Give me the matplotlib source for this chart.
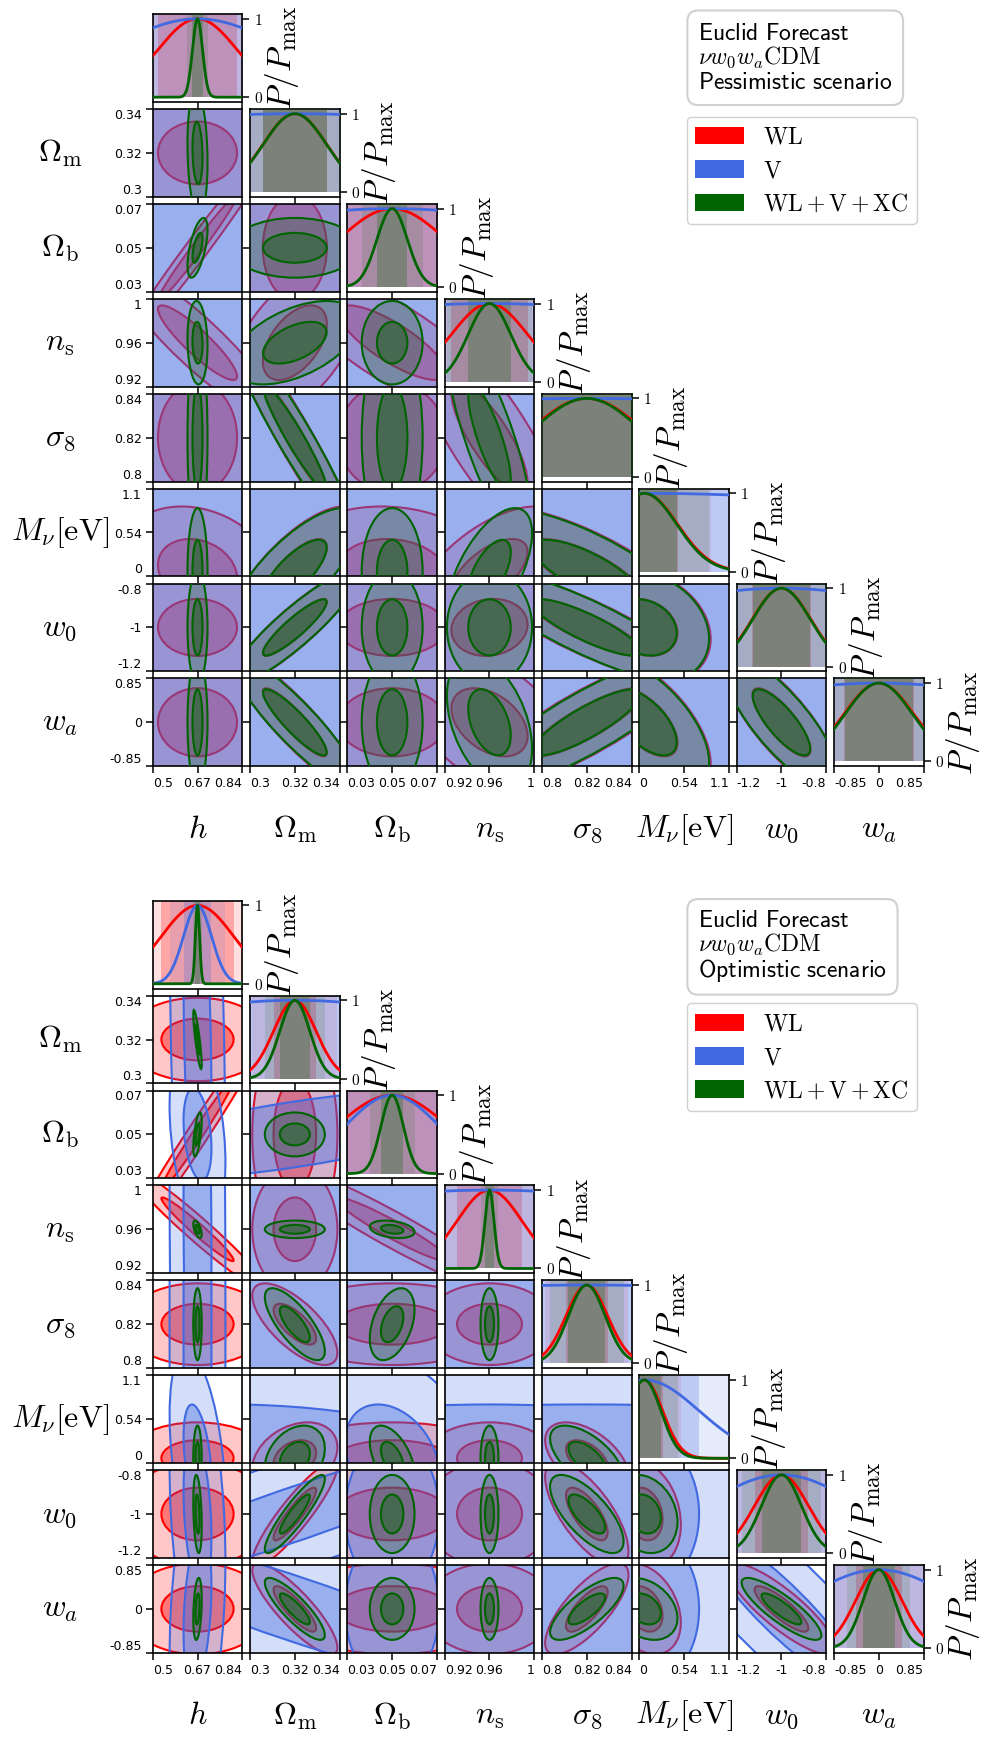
import numpy as np
import matplotlib
matplotlib.use("Agg")
import matplotlib.pyplot as plt
from matplotlib.patches import Ellipse, Patch

plt.rcParams["mathtext.fontset"] = "cm"
plt.rcParams["font.family"] = ["DejaVu Sans"]

# ---------------- data ----------------
PARAM_LABELS = [r"$h$", r"$\Omega_{\rm m}$", r"$\Omega_{\rm b}$", r"$n_{\rm s}$",
                r"$\sigma_8$", r"$M_\nu[\mathrm{eV}]$", r"$w_0$", r"$w_a$"]
FIDUCIAL = [0.67, 0.32, 0.05, 0.96, 0.82, 0.06, -1.0, 0.0]
AXIS_LIMITS = [(0.5, 0.84), (0.30, 0.34), (0.03, 0.07), (0.92, 1.0),
               (0.80, 0.84), (0.0, 1.08), (-1.2, -0.8), (-0.85, 0.85)]
TICK_VALUES = [[0.5, 0.67, 0.84], [0.30, 0.32, 0.34], [0.03, 0.05, 0.07],
               [0.92, 0.96, 1.0], [0.80, 0.82, 0.84], [0.0, 0.54, 1.08],
               [-1.2, -1.0, -0.8], [-0.85, 0.0, 0.85]]
TICK_LABELS = [["0.5", "0.67", "0.84"], ["0.3", "0.32", "0.34"], ["0.03", "0.05", "0.07"],
               ["0.92", "0.96", "1"], ["0.8", "0.82", "0.84"], ["0", "0.54", "1.1"],
               ["-1.2", "-1", "-0.8"], ["-0.85", "0", "0.85"]]

FORECAST_LABELS = [r"$\mathrm{WL}$", r"$\mathrm{V}$",
                   r"$\mathrm{WL} + \mathrm{V} + \mathrm{XC}$"]
FORECAST_COLORS = ["#ff0000", "#4169e1", "#006400"]
SCENARIOS = ["Pessimistic scenario", "Optimistic scenario"]

# marginalised 1-sigma errors  (h, Om, Ob, ns, s8, Mnu, w0, wa)
SIGMA_PESS_WL = [0.15, 0.0143, 0.024, 0.034, 0.025, 0.40, 0.13, 0.66]
SIGMA_PESS_V = [0.34, 0.15, 0.10, 0.25, 0.20, 5.0, 0.80, 4.0]
SIGMA_PESS_ALL = [0.019, 0.0142, 0.0068, 0.019, 0.024, 0.39, 0.128, 0.64]
SIGMA_OPT_WL = [0.137, 0.0095, 0.025, 0.029, 0.0093, 0.22, 0.12, 0.44]
SIGMA_OPT_V = [0.053, 0.095, 0.021, 0.25, 0.20, 0.66, 0.35, 1.5]
SIGMA_OPT_ALL = [0.008, 0.0067, 0.005, 0.004, 0.0082, 0.20, 0.089, 0.30]

# correlation coefficients, lower triangle (row i: correlation with params 0..i-1)
CORR_PESS_WL = [[],
                [0.0],
                [0.985, 0.0],
                [-0.9, 0.5, -0.8],
                [0.0, -0.95, 0.0, -0.8],
                [-0.2, 0.75, -0.1, 0.6, -0.75],
                [0.0, 0.9, 0.0, 0.1, -0.85, -0.2],
                [0.0, -0.9, 0.0, -0.4, 0.85, -0.6, -0.8]]
CORR_PESS_V = [[],
               [0.0],
               [0.0, 0.0],
               [0.0, 0.0, 0.0],
               [0.0, 0.0, 0.0, 0.0],
               [0.0, 0.0, 0.0, 0.0, 0.0],
               [0.0, 0.0, 0.0, 0.0, 0.0, 0.0],
               [0.0, 0.0, 0.0, 0.0, 0.0, 0.0, 0.0]]
CORR_PESS_ALL = [[],
                 [-0.15],
                 [0.6, 0.0],
                 [-0.1, 0.5, 0.0],
                 [0.0, -0.95, 0.0, -0.8],
                 [0.0, 0.75, 0.0, 0.6, -0.75],
                 [0.0, 0.9, 0.0, 0.0, -0.85, -0.2],
                 [0.0, -0.9, 0.0, -0.4, 0.85, -0.6, -0.8]]
CORR_OPT_WL = [[],
               [0.0],
               [0.985, 0.0],
               [-0.97, 0.0, -0.95],
               [0.0, -0.7, 0.0, 0.0],
               [0.0, 0.3, 0.0, 0.0, -0.5],
               [0.0, 0.9, 0.0, 0.0, -0.7, -0.2],
               [0.0, -0.85, 0.0, 0.0, 0.75, -0.3, -0.85]]
CORR_OPT_V = [[],
              [-0.3],
              [-0.3, 0.7],
              [-0.1, 0.0, 0.0],
              [0.0, 0.0, 0.0, 0.0],
              [-0.4, -0.3, -0.3, 0.0, 0.0],
              [-0.3, 0.93, 0.0, 0.0, 0.0, 0.0],
              [0.3, -0.9, 0.0, 0.0, 0.0, 0.0, -0.9]]
CORR_OPT_ALL = [[],
                [-0.85],
                [0.6, 0.0],
                [-0.6, 0.0, -0.3],
                [0.0, -0.75, 0.4, 0.0],
                [0.0, 0.3, -0.5, 0.0, -0.6],
                [-0.3, 0.9, 0.0, 0.0, -0.7, -0.2],
                [0.3, -0.85, 0.0, 0.0, 0.75, -0.3, -0.85]]

TRIANGLES = [
    (SCENARIOS[0], [(SIGMA_PESS_WL, CORR_PESS_WL), (SIGMA_PESS_V, CORR_PESS_V),
                    (SIGMA_PESS_ALL, CORR_PESS_ALL)]),
    (SCENARIOS[1], [(SIGMA_OPT_WL, CORR_OPT_WL), (SIGMA_OPT_V, CORR_OPT_V),
                    (SIGMA_OPT_ALL, CORR_OPT_ALL)]),
]

# ---------------- layout ----------------
W, H = 988, 1737
fig = plt.figure(figsize=(W / 100, H / 100), dpi=100)

X0, DX, PW = 152.7, 97.33, 89.6
DY, PH = 94.9, 87.8
Y0S = [14.1, 900.7]
A2, A1 = 0.22, 0.40          # 2D ellipse fill alphas
D2, D1 = 0.12, 0.25          # 1D band fill alphas
LW = 1.5
NP = len(PARAM_LABELS)
DIAG_LIM = (-0.06, 1.06)


def rect(i, j, y0):
    left = X0 + j * DX
    top = y0 + i * DY
    return [left / W, 1 - (top + PH) / H, PW / W, PH / H]


def style_common(ax):
    for s in ax.spines.values():
        s.set_linewidth(1.2)
    ax.tick_params(direction="out", length=5.3, width=1.1, labelsize=9, pad=2.5)


def set_xt(ax, j, show):
    ax.set_xticks(TICK_VALUES[j], TICK_LABELS[j] if show else [""] * 3)
    if show:
        for k, lab in enumerate(ax.get_xticklabels()):
            lab.set_horizontalalignment(["left", "center", "right"][k])


def draw_ellipses(ax, mx, my, C, color, z):
    vals, vecs = np.linalg.eigh(C)
    ang = np.degrees(np.arctan2(vecs[1, 1], vecs[0, 1]))
    for k, a in ((2, A2), (1, A1)):
        ax.add_patch(Ellipse((mx, my), 2 * k * np.sqrt(vals[1]), 2 * k * np.sqrt(vals[0]),
                             angle=ang, facecolor=color, alpha=a, edgecolor="none", zorder=z))
    for k in (2, 1):
        ax.add_patch(Ellipse((mx, my), 2 * k * np.sqrt(vals[1]), 2 * k * np.sqrt(vals[0]),
                             angle=ang, fill=False, edgecolor=color, lw=LW, zorder=z + 0.5))


for t, (scenario, forecasts) in enumerate(TRIANGLES):
    y0 = Y0S[t]
    for i in range(NP):
        for j in range(i + 1):
            ax = fig.add_axes(rect(i, j, y0))
            style_common(ax)
            ax.set_xlim(AXIS_LIMITS[j])
            last = (i == NP - 1)
            if i == j:
                ax.set_ylim(DIAG_LIM)
                x = np.linspace(AXIS_LIMITS[i][0], AXIS_LIMITS[i][1], 500)
                mu = FIDUCIAL[i]
                for f, (sig, corr) in enumerate(forecasts):
                    s = sig[i]
                    ax.fill_between([mu - 2 * s, mu + 2 * s], 0, DIAG_LIM[1],
                                    color=FORECAST_COLORS[f], alpha=D2, lw=0, zorder=1 + f)
                    ax.fill_between([mu - s, mu + s], 0, DIAG_LIM[1],
                                    color=FORECAST_COLORS[f], alpha=D1, lw=0, zorder=1 + f)
                for f, (sig, corr) in enumerate(forecasts):
                    s = sig[i]
                    ax.plot(x, np.exp(-0.5 * ((x - mu) / s) ** 2), color=FORECAST_COLORS[f],
                            lw=2.0, zorder=5 + f)
                ax.yaxis.tick_right()
                ax.set_yticks([0, 1], [r"$0$", r"$1$"])
                ax.tick_params(axis="y", labelsize=11, pad=3)
                ax.yaxis.set_label_position("right")
                ax.set_ylabel(r"$P/P_{\rm max}$", fontsize=24, labelpad=0)
                set_xt(ax, i, last)
            else:
                ax.set_ylim(AXIS_LIMITS[i])
                for f, (sig, corr) in enumerate(forecasts):
                    r = corr[i][j]
                    sx, sy = sig[j], sig[i]
                    C = np.array([[sx * sx, r * sx * sy], [r * sx * sy, sy * sy]])
                    draw_ellipses(ax, FIDUCIAL[j], FIDUCIAL[i], C, FORECAST_COLORS[f], 1 + f)
                set_xt(ax, j, last)
                show_y = (j == 0)
                ax.set_yticks(TICK_VALUES[i], TICK_LABELS[i] if show_y else [""] * 3)
                if show_y:
                    labs = ax.get_yticklabels()
                    labs[0].set_verticalalignment("bottom")
                    labs[2].set_verticalalignment("top")
            # axis labels
            if j == 0 and i > 0:
                top = y0 + i * DY
                fig.text(60 / W, 1 - (top + PH / 2) / H, PARAM_LABELS[i], fontsize=23,
                         ha="center", va="center")
            if last:
                left = X0 + j * DX
                fig.text((left + PW / 2) / W, 1 - (y0 + i * DY + PH + 63) / H,
                         PARAM_LABELS[j], fontsize=23, ha="center", va="center")

    # info box
    fig.text(698 / W, 1 - (y0 + 7) / H,
             r"$\mathsf{Euclid\ Forecast}$" + "\n" + r"$\nu w_0 w_a\mathrm{CDM}$" + "\n"
             + r"$\mathsf{" + scenario.replace(" ", r"\ ") + "}$",
             fontsize=17, ha="left", va="top", linespacing=1.0,
             bbox=dict(boxstyle="round,pad=0.45", fc="white", ec="#d0d0d0", lw=1.5))
    handles = [Patch(facecolor=c, edgecolor="none") for c in FORECAST_COLORS]
    fig.legend(handles, FORECAST_LABELS, loc="upper left",
               bbox_to_anchor=(686.7 / W, 1 - (y0 + 102.6) / H), fontsize=17,
               handlelength=2.08, handleheight=0.76, handletextpad=0.8,
               labelspacing=0.4, borderpad=0.35, borderaxespad=0, fancybox=True,
               framealpha=1, edgecolor="#d0d0d0")

fig.savefig("out.png", dpi=100)
